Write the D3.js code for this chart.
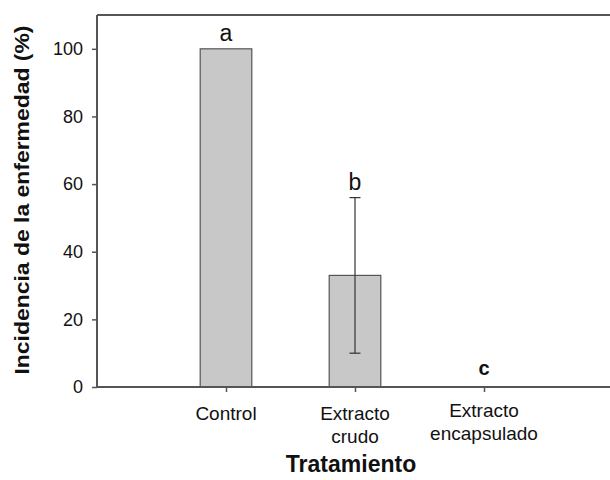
<!DOCTYPE html>
<html><head><meta charset="utf-8">
<script src="https://cdn.jsdelivr.net/npm/d3@7"></script>
<style>body{margin:0;background:#fff}svg{display:block}</style>
</head><body>
<script>
const categories = [["Control"], ["Extracto", "crudo"], ["Extracto", "encapsulado"]];
const values = [100, 33, 0];
const errors = [0, 23, 0];
const letters = ["a", "b", "c"];
const yTicks = [0, 20, 40, 60, 80, 100];

const W = 610, H = 480;
const svg = d3.select("body").append("svg").attr("width", W).attr("height", H);
const mLeft = 97, mTop = 15, mBottom = 387;
const x = d3.scaleLinear().domain([0, 4]).range([mLeft, 613]);
const y = d3.scaleLinear().domain([0, 110]).range([mBottom, mTop]);
const ax = "#555";
const font = "Arial, 'Liberation Sans', sans-serif";

// bars
const bw = x(0.4) - x(0);
svg.selectAll("rect.bar").data(values).enter().append("rect")
  .attr("x", (d, i) => x(i + 1) - bw / 2)
  .attr("y", d => y(d))
  .attr("width", bw)
  .attr("height", d => y(0) - y(d))
  .attr("fill", "#c8c8c8").attr("stroke", ax).attr("stroke-width", 1.2);

// error bars
const cap = 5.5;
values.forEach((v, i) => {
  if (!errors[i]) return;
  const cx = x(i + 1);
  const g = svg.append("g").attr("stroke", "#333").attr("stroke-width", 1.2);
  g.append("line").attr("x1", cx).attr("x2", cx).attr("y1", y(v + errors[i])).attr("y2", y(v - errors[i]));
  g.append("line").attr("x1", cx - cap).attr("x2", cx + cap).attr("y1", y(v + errors[i])).attr("y2", y(v + errors[i]));
  g.append("line").attr("x1", cx - cap).attr("x2", cx + cap).attr("y1", y(v - errors[i])).attr("y2", y(v - errors[i]));
});

// letters
svg.selectAll("text.let").data(letters).enter().append("text")
  .attr("x", (d, i) => x(i + 1))
  .attr("y", (d, i) => values[i] === 0 ? y(0) - 12.5 : y(values[i] + errors[i]) - 8)
  .attr("text-anchor", "middle").attr("font-family", font)
  .attr("font-size", (d, i) => values[i] === 0 ? 20 : 23)
  .attr("font-weight", (d, i) => values[i] === 0 ? "bold" : "normal")
  .attr("fill", "#111").text(d => d);

// y axis
const yAxis = svg.append("g").attr("transform", `translate(${mLeft},0)`)
  .call(d3.axisLeft(y).tickValues(yTicks).tickSize(5).tickPadding(9));
yAxis.select(".domain").remove();
yAxis.selectAll(".tick line").attr("stroke", ax).attr("stroke-width", 1.5);
yAxis.selectAll(".tick text").attr("font-family", font).attr("font-size", 18).attr("fill", "#111");
svg.append("line").attr("x1", mLeft).attr("x2", mLeft).attr("y1", mTop).attr("y2", mBottom).attr("stroke", ax).attr("stroke-width", 2);
svg.append("line").attr("x1", mLeft).attr("x2", W).attr("y1", mTop).attr("y2", mTop).attr("stroke", ax).attr("stroke-width", 2);

// x axis
const xAxis = svg.append("g").attr("transform", `translate(0,${mBottom})`)
  .call(d3.axisBottom(x).tickValues([1, 2, 3]).tickSize(5).tickFormat(""));
xAxis.select(".domain").remove();
xAxis.selectAll(".tick line").attr("stroke", ax).attr("stroke-width", 1.5);
svg.append("line").attr("x1", mLeft).attr("x2", W).attr("y1", mBottom).attr("y2", mBottom).attr("stroke", ax).attr("stroke-width", 2);

categories.forEach((lines, i) => {
  const t = svg.append("text").attr("text-anchor", "middle").attr("font-family", font)
    .attr("font-size", 19).attr("fill", "#111");
  const y0 = lines.length > 1 && i === 2 ? 417 : 420;
  lines.forEach((l, j) => t.append("tspan").attr("x", x(i + 1)).attr("y", y0 + j * 23).text(l));
});

// titles
svg.append("text").attr("x", 351).attr("y", 472).attr("text-anchor", "middle")
  .attr("font-family", font).attr("font-size", 23).attr("font-weight", "bold").attr("fill", "#111")
  .text("Tratamiento");
svg.append("text").attr("transform", `translate(29,200) rotate(-90)`)
  .attr("text-anchor", "middle").attr("font-family", font).attr("font-size", 20)
  .attr("font-weight", "bold").attr("fill", "#111")
  .attr("textLength", 349).attr("lengthAdjust", "spacingAndGlyphs")
  .text("Incidencia de la enfermedad (%)");
</script>
</body></html>
